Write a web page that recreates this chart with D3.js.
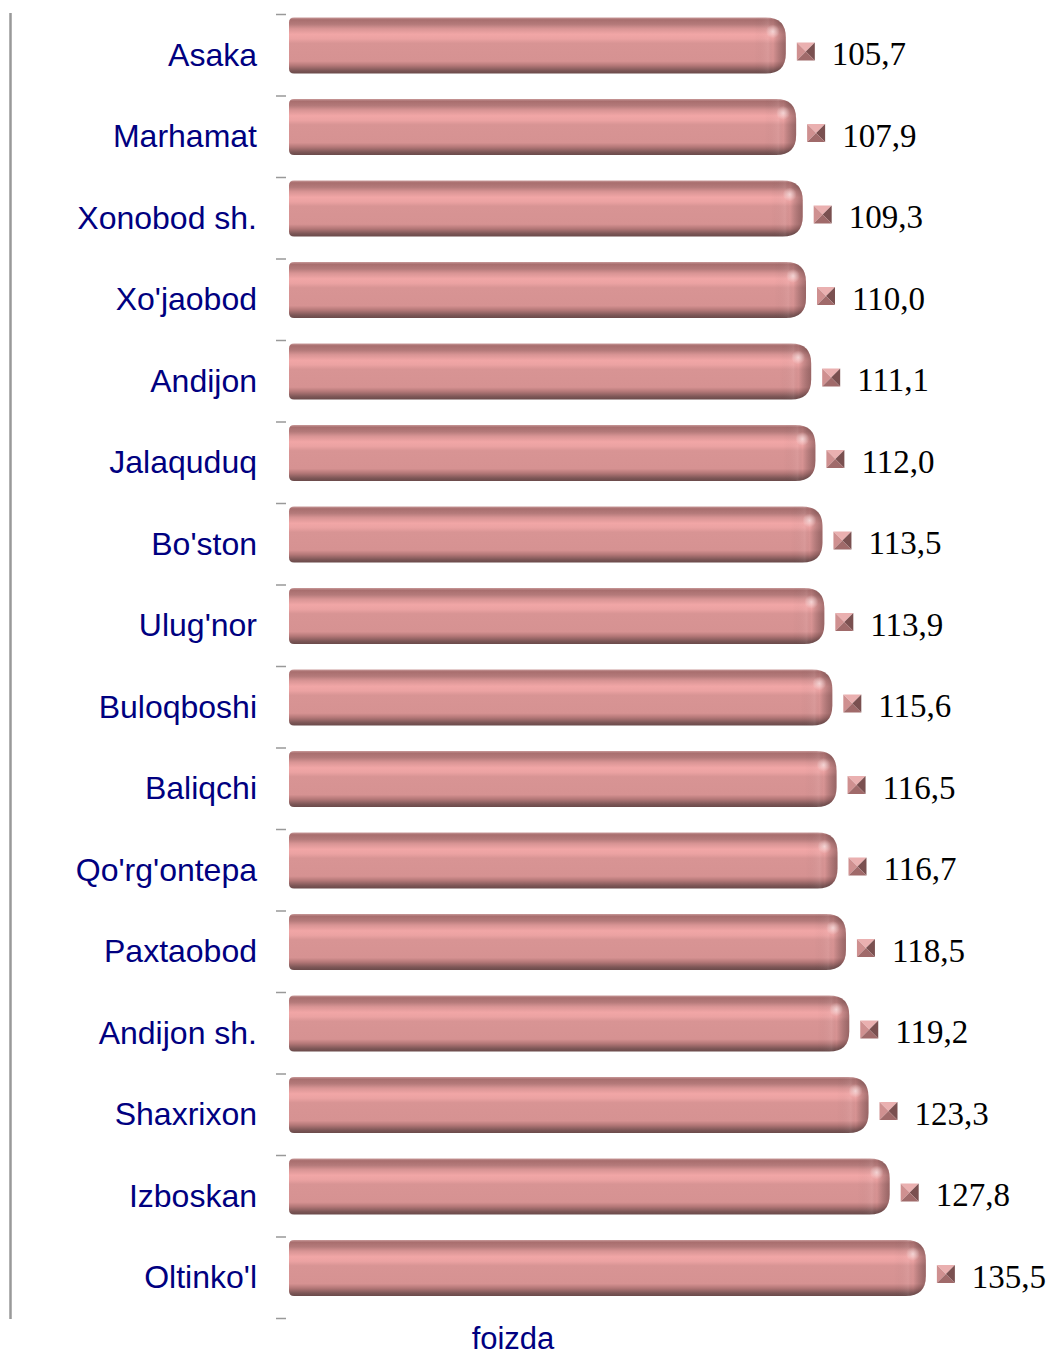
<!DOCTYPE html>
<html><head><meta charset="utf-8">
<script src="https://cdn.jsdelivr.net/npm/d3@7"></script>
<style>body{margin:0;background:#fff}svg{display:block}</style>
</head><body>
<svg id="c" width="1048" height="1355"></svg>
<script>
const categories = ["Asaka","Marhamat","Xonobod sh.","Xo'jaobod","Andijon","Jalaquduq","Bo'ston","Ulug'nor","Buloqboshi","Baliqchi","Qo'rg'ontepa","Paxtaobod","Andijon sh.","Shaxrixon","Izboskan","Oltinko'l"];
const values = [105.7,107.9,109.3,110.0,111.1,112.0,113.5,113.9,115.6,116.5,116.7,118.5,119.2,123.3,127.8,135.5];
const valueLabels = ["105,7","107,9","109,3","110,0","111,1","112,0","113,5","113,9","115,6","116,5","116,7","118,5","119,2","123,3","127,8","135,5"];
const axisTitle = "foizda";

const svg = d3.select("#c");
const x = d3.scaleLinear().domain([0,140]).range([289,947]);
const y = d3.scaleBand().domain(categories).range([14.5,1318.5]).paddingInner(0).paddingOuter(0);

const defs = svg.append("defs");
const vg = defs.append("linearGradient").attr("id","vg").attr("x1",0).attr("y1",0).attr("x2",0).attr("y2",1);
[[0,"#c99a9a"],[0.04,"#a86e6e"],[0.12,"#b47a7a"],[0.2,"#d89494"],[0.3,"#f1a6a6"],[0.38,"#eba2a2"],[0.46,"#d89494"],[0.78,"#d69292"],[0.86,"#b37777"],[0.95,"#7c5656"],[1,"#6a4a4a"]]
 .forEach(([o,c])=>vg.append("stop").attr("offset",o).attr("stop-color",c));
const hg = defs.append("linearGradient").attr("id","hg").attr("x1",0).attr("y1",0).attr("x2",1).attr("y2",0);
[[0,"#000",0],[0.45,"#fff",0.06],[0.6,"#000",0],[1,"#3a2020",0.4]]
 .forEach(([o,c,a])=>hg.append("stop").attr("offset",o).attr("stop-color",c).attr("stop-opacity",a));
const rg = defs.append("radialGradient").attr("id","rg");
rg.append("stop").attr("offset",0).attr("stop-color","#fff").attr("stop-opacity",0.55);
rg.append("stop").attr("offset",1).attr("stop-color","#fff").attr("stop-opacity",0);

// left frame line
svg.append("line").attr("x1",10.5).attr("x2",10.5).attr("y1",13).attr("y2",1319).attr("stroke","#999").attr("stroke-width",2.5);

// ticks
const tickYs = categories.map(c=>y(c)).concat([y.range()[1]]);
svg.selectAll("line.tk").data(tickYs).enter().append("line").attr("class","tk")
  .attr("x1",276).attr("x2",286).attr("y1",d=>d).attr("y2",d=>d).attr("stroke","#999").attr("stroke-width",1.5);

function barPath(x0,x1,y0,y1){
  const rL=5, rR=Math.min(20,(y1-y0)/2.6);
  return `M${x0+rL},${y0} L${x1-rR},${y0} Q${x1},${y0} ${x1},${y0+rR} L${x1},${y1-rR} Q${x1},${y1} ${x1-rR},${y1} L${x0+rL},${y1} Q${x0},${y1} ${x0},${y1-rL} L${x0},${y0+rL} Q${x0},${y0} ${x0+rL},${y0} Z`;
}

const g = svg.append("g");
categories.forEach((c,i)=>{
  const b = y(c), x0 = x(0), x1 = x(values[i]);
  const y0 = b+3, y1 = b+59;
  g.append("path").attr("d",barPath(x0,x1,y0,y1)).attr("fill","url(#vg)");
  g.append("path").attr("d",barPath(x1-32,x1,y0,y1)).attr("fill","url(#hg)");
  g.append("ellipse").attr("cx",x1-13).attr("cy",y0+14).attr("rx",7).attr("ry",7).attr("fill","url(#rg)");
  // marker
  const mx = x1+11, my = b+28, s=18;
  const cx = mx+s/2, cy = my+s/2;
  const tri=(pts,f)=>g.append("polygon").attr("points",pts.map(p=>p.join(",")).join(" ")).attr("fill",f);
  tri([[mx,my],[mx+s,my],[cx,cy]],"#eab0b0");
  tri([[mx,my],[cx,cy],[mx,my+s]],"#cf9090");
  tri([[mx+s,my],[mx+s,my+s],[cx,cy]],"#7a5050");
  tri([[mx,my+s],[cx,cy],[mx+s,my+s]],"#a06a6a");
  // value label
  g.append("text").attr("x",x1+46).attr("y",b+43).attr("dominant-baseline","middle")
   .attr("font-family","'Liberation Serif','Times New Roman',serif").attr("font-size",33).attr("fill","#000")
   .text(valueLabels[i]);
  // category label
  g.append("text").attr("x",257).attr("y",b+43).attr("text-anchor","end").attr("dominant-baseline","middle")
   .attr("font-family","'Liberation Sans',Arial,sans-serif").attr("font-size",32).attr("fill","#000080")
   .text(c);
});

svg.append("text").attr("x",513).attr("y",1341).attr("text-anchor","middle").attr("dominant-baseline","middle")
  .attr("font-family","'Liberation Sans',Arial,sans-serif").attr("font-size",31).attr("fill","#000080").text(axisTitle);
</script>
</body></html>
